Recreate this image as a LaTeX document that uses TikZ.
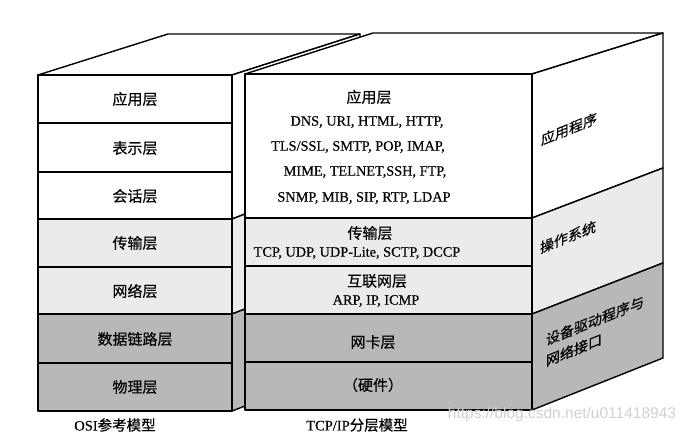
\documentclass[tikz,border=0pt]{standalone}
\usepackage{fontspec}
\setmainfont{Liberation Serif}[FakeBold=0.3]
\newfontfamily\cjk{Noto Sans CJK SC}[FakeBold=0.4]
\newfontfamily\wmfont{Liberation Sans}
\begin{document}
\begin{tikzpicture}[x=1pt,y=-1pt,line join=round,
  face/.style={draw=black,line width=1.4pt},
  litefill/.style={fill=black!8},
  darkfill/.style={fill=black!28},
  zh/.style={font=\cjk\fontsize{15}{17}\selectfont,inner sep=0pt},
  en/.style={font=\fontsize{14.3}{17}\selectfont,inner sep=0pt},
  sidelabel/.style={font=\cjk\fontsize{14}{21}\selectfont,yslant=0.4,inner sep=0pt,align=left},
  caption/.style={font=\fontsize{14.5}{17}\selectfont,inner sep=0pt}]

\useasboundingbox (0,0) rectangle (689,435);
\fill[white] (0,0) rectangle (689,435);

% ---------- OSI box ----------
\draw[face,fill=white] (38,75) -- (232,75) -- (360,34) -- (168,34) -- cycle;
\draw[face,fill=white] (232,75) -- (360,34) -- (360,170) -- (232,219) -- cycle;
\draw[face,litefill] (232,219) -- (360,170) -- (360,265) -- (232,314) -- cycle;
\draw[face,darkfill] (232,314) -- (360,265) -- (360,362) -- (232,411) -- cycle;
\draw[face,fill=white] (38,75) rectangle (232,219);
\draw[face] (38,123) -- (232,123);
\draw[face] (38,172) -- (232,172);
\draw[face,litefill] (38,219) rectangle (232,314);
\draw[face] (38,267) -- (232,267);
\draw[face,darkfill] (38,314) rectangle (232,411);
\draw[face] (38,363) -- (232,363);

\node[zh] (o1) at (135,99) {应用层};
\node[zh] (o2) at (135,148) {表示层};
\node[zh] (o3) at (135,196) {会话层};
\node[zh] (o4) at (135,243) {传输层};
\node[zh] (o5) at (135,291) {网络层};
\node[zh] (o6) at (135,339) {数据链路层};
\node[zh] (o7) at (135,387) {物理层};

% ---------- TCP/IP box ----------
\draw[face,fill=white] (245,74) -- (532,74) -- (663,33) -- (373,33) -- cycle;
\draw[face,fill=white] (532,74) -- (663,33) -- (663,168) -- (532,218) -- cycle;
\draw[face,litefill] (532,218) -- (663,168) -- (663,263) -- (532,314) -- cycle;
\draw[face,darkfill] (532,314) -- (663,263) -- (663,358) -- (532,410) -- cycle;
\draw[face,fill=white] (245,74) rectangle (532,218);
\draw[face,litefill] (245,218) rectangle (532,314);
\draw[face] (245,266) -- (532,266);
\draw[face,darkfill] (245,314) rectangle (532,410);
\draw[face] (245,362) -- (532,362);

\node[zh] (t1) at (369,97) {应用层};
\node[en] (t1a) at (367,122) {DNS, URI, HTML, HTTP,};
\node[en] (t1b) at (358,147) {TLS/SSL, SMTP, POP, IMAP,};
\node[en] (t1c) at (365,172) {MIME, TELNET,SSH, FTP,};
\node[en] (t1d) at (364,198) {SNMP, MIB, SIP, RTP, LDAP};
\node[zh] (t2) at (370,233) {传输层};
\node[en] (t2a) at (357,253) {TCP, UDP, UDP-Lite, SCTP, DCCP};
\node[zh] (t3) at (377,281) {互联网层};
\node[en] (t3a) at (376,301) {ARP, IP, ICMP};
\node[zh] (t4) at (373,342) {网卡层};
\node[zh] (t5) at (373,385) {（硬件）};

% ---------- side labels ----------
\node[sidelabel] (s1) at (569,129) {应用程序};
\node[sidelabel] (s2) at (568,237) {操作系统};
\node[sidelabel] (s3) at (595,331) {设备驱动程序与\\网络接口};

% ---------- captions ----------
\node[caption] (c1) at (115,425) {OSI{\cjk 参考模型}};
\node[caption] (c2) at (357,425) {TCP/IP{\cjk 分层模型}};

% ---------- watermark ----------
\node[font=\wmfont\fontsize{15.5}{17}\selectfont,text=black!18,inner sep=0pt] (wm) at (562,414) {https://blog.csdn.net/u011418943};
\end{tikzpicture}
\end{document}
